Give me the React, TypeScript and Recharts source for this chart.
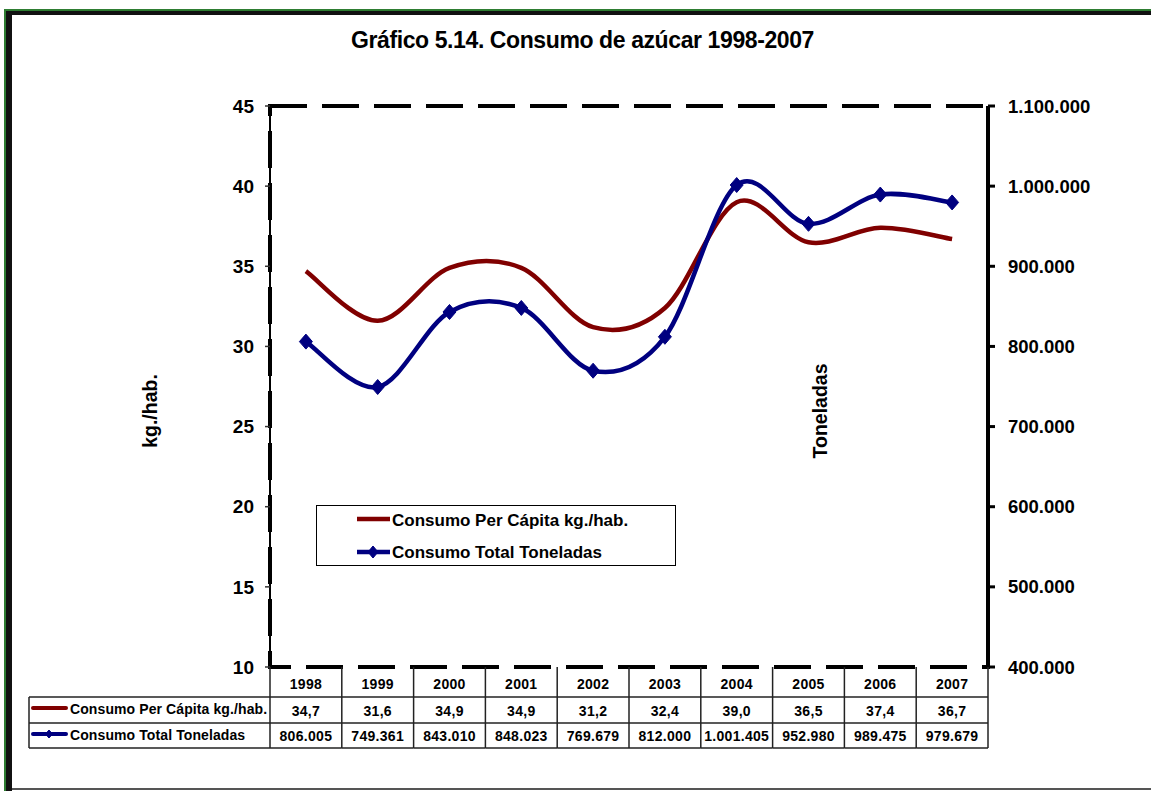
import React from "react";
import {
  LineChart,
  Line,
  XAxis,
  YAxis,
  Legend,
  ReferenceArea,
} from "recharts";

const years = ["1998", "1999", "2000", "2001", "2002", "2003", "2004", "2005", "2006", "2007"];
const perCapita = [34.7, 31.6, 34.9, 34.9, 31.2, 32.4, 39.0, 36.5, 37.4, 36.7];
const totalTons = [806005, 749361, 843010, 848023, 769679, 812000, 1001405, 952980, 989475, 979679];
const leftTicks = [10, 15, 20, 25, 30, 35, 40, 45];
const rightTicks = [400000, 500000, 600000, 700000, 800000, 900000, 1000000, 1100000];

const seriesNames = {
  perCapita: "Consumo Per Cápita kg./hab.",
  total: "Consumo Total Toneladas",
};

const data = years.map((y, i) => ({ year: y, perCapita: perCapita[i], total: totalTons[i] }));

const RED = "#800000";
const BLUE = "#000080";
const FONT = "'Liberation Sans', Arial, sans-serif";
const COL_W = 71.8;

const fmtThousands = (v: number) => String(v).replace(/\B(?=(\d{3})+(?!\d))/g, ".");
const fmtDecimal = (v: number) => v.toFixed(1).replace(".", ",");

// Excel-style smoothed line (catmull-rom like bezier)
const excelSmooth = (context: any) => {
  let pts: [number, number][] = [];
  return {
    areaStart() {},
    areaEnd() {},
    lineStart() {
      pts = [];
    },
    lineEnd() {
      if (!pts.length) return;
      context.moveTo(pts[0][0], pts[0][1]);
      for (let i = 0; i < pts.length - 1; i++) {
        const p0 = pts[i - 1] || pts[i];
        const p1 = pts[i];
        const p2 = pts[i + 1];
        const p3 = pts[i + 2] || p2;
        context.bezierCurveTo(
          p1[0] + (p2[0] - p0[0]) / 6,
          p1[1] + (p2[1] - p0[1]) / 6,
          p2[0] - (p3[0] - p1[0]) / 6,
          p2[1] - (p3[1] - p1[1]) / 6,
          p2[0],
          p2[1]
        );
      }
    },
    point(x: number, y: number) {
      pts.push([x, +y]);
    },
  };
};

const Diamond = ({ cx, cy, w = 6.5, h = 7.5 }: any) => {
  if (cx == null || cy == null) return null;
  return (
    <polygon
      points={`${cx},${cy - h} ${cx + w},${cy} ${cx},${cy + h} ${cx - w},${cy}`}
      fill={BLUE}
      stroke={BLUE}
    />
  );
};

const cellText = { fontFamily: FONT, fontWeight: 700, fontSize: 14, fill: "#000", letterSpacing: 0.3 } as const;

// x axis tick draws the data table column under each year
const TableTick = (props: any) => {
  const { x, y, payload, index } = props;
  const left = x - COL_W / 2;
  const right = x + COL_W / 2;
  const r1 = y + 30;
  const r2 = y + 56;
  const r3 = y + 81;
  const ln = { stroke: "#222", strokeWidth: 1.5 };
  const labelLeft = left - 241;
  return (
    <g>
      <line x1={left} y1={y} x2={left} y2={r3} {...ln} />
      {index === years.length - 1 && <line x1={right} y1={y} x2={right} y2={r3} {...ln} />}
      <line x1={left} y1={r1} x2={right} y2={r1} {...ln} />
      <line x1={left} y1={r2} x2={right} y2={r2} {...ln} />
      <line x1={left} y1={r3} x2={right} y2={r3} {...ln} />
      <text x={x} y={y + 22} textAnchor="middle" {...cellText}>{payload.value}</text>
      <text x={x} y={r1 + 19} textAnchor="middle" {...cellText}>{fmtDecimal(perCapita[index])}</text>
      <text x={x} y={r2 + 18} textAnchor="middle" {...cellText}>{fmtThousands(totalTons[index])}</text>
      {index === 0 && (
        <g>
          <line x1={labelLeft} y1={r1} x2={left} y2={r1} {...ln} />
          <line x1={labelLeft} y1={r2} x2={left} y2={r2} {...ln} />
          <line x1={labelLeft} y1={r3} x2={left} y2={r3} {...ln} />
          <line x1={labelLeft} y1={r1} x2={labelLeft} y2={r3} {...ln} />
          <line x1={labelLeft + 4} y1={r1 + 11} x2={labelLeft + 37} y2={r1 + 11} stroke={RED} strokeWidth={4} strokeLinecap="round" />
          <text x={labelLeft + 41} y={r1 + 17} {...cellText} letterSpacing={0.1}>{seriesNames.perCapita}</text>
          <line x1={labelLeft + 4} y1={r2 + 11} x2={labelLeft + 37} y2={r2 + 11} stroke={BLUE} strokeWidth={4} strokeLinecap="round" />
          <Diamond cx={labelLeft + 20} cy={r2 + 11} w={3.5} h={4} />
          <text x={labelLeft + 41} y={r2 + 17} {...cellText} letterSpacing={0.1}>{seriesNames.total}</text>
        </g>
      )}
    </g>
  );
};

const LegendBox = () => (
  <div
    style={{
      width: 360,
      height: 61,
      boxSizing: "border-box",
      border: "1.5px solid #000",
      background: "#fff",
      position: "relative",
    }}
  >
    <svg width={360} height={61} style={{ position: "absolute", left: -1.5, top: -1.5 }}>
      <line x1={41} y1={14} x2={74} y2={14} stroke={RED} strokeWidth={4.5} />
      <line x1={41} y1={47} x2={74} y2={47} stroke={BLUE} strokeWidth={4.5} />
      <Diamond cx={57} cy={47} w={5} h={6} />
      <text x={76} y={21} style={{ fontFamily: FONT, fontWeight: 700, fontSize: 17 }}>{seriesNames.perCapita}</text>
      <text x={76} y={53} style={{ fontFamily: FONT, fontWeight: 700, fontSize: 17 }}>{seriesNames.total}</text>
    </svg>
  </div>
);

const axisTitle = { fontFamily: FONT, fontWeight: 700, fontSize: 19.5, fill: "#000" };

const KgLabel = () => (
  <text
    x={150}
    y={411}
    transform="rotate(-90 150 411)"
    textAnchor="middle"
    dominantBaseline="central"
    style={axisTitle}
  >
    kg./hab.
  </text>
);

const TonLabel = (props: any) => {
  const vb = props.viewBox || {};
  const cx = (vb.x ?? 988) - 168;
  const cy = 411;
  return (
    <text
      x={cx}
      y={cy}
      transform={`rotate(-90 ${cx} ${cy})`}
      textAnchor="middle"
      dominantBaseline="central"
      style={axisTitle}
    >
      Toneladas
    </text>
  );
};

export default function App() {
  return (
    <div style={{ position: "absolute", left: 0, top: 0, width: 1151, height: 791, background: "#fff", overflow: "hidden" }}>
      {/* frame */}
      <div style={{ position: "absolute", left: 4, top: 9, width: 1151, height: 2, background: "#2e7d32" }} />
      <div style={{ position: "absolute", left: 4, top: 9, width: 2, height: 791, background: "#2e7d32" }} />
      <div style={{ position: "absolute", left: 6, top: 11, width: 1151, height: 4, background: "#111" }} />
      <div style={{ position: "absolute", left: 6, top: 11, width: 6, height: 791, background: "#111" }} />
      <div style={{ position: "absolute", left: 12, top: 788, width: 1151, height: 2, background: "#555" }} />

      <div
        style={{
          position: "absolute",
          left: 0,
          top: 27,
          width: 1165,
          textAlign: "center",
          fontFamily: FONT,
          fontWeight: 700,
          fontSize: 23,
          letterSpacing: -0.4,
          color: "#000",
        }}
      >
        Gráfico 5.14. Consumo de azúcar 1998-2007
      </div>

      <div style={{ position: "absolute", left: 0, top: 0 }}>
        <LineChart width={1151} height={791} data={data} margin={{ top: 106, right: 53, bottom: 43, left: 140 }}>
          <ReferenceArea
            yAxisId="left"
            y1={10}
            y2={45}
            fill="none"
            stroke="#000"
            strokeWidth={4}
            strokeDasharray="37 15"
            ifOverflow="visible"
          />
          <XAxis
            dataKey="year"
            scale="band"
            interval={0}
            height={81}
            axisLine={false}
            tickLine={false}
            tickSize={0}
            tickMargin={0}
            tick={<TableTick />}
          />
          <YAxis
            yAxisId="left"
            width={130}
            domain={[10, 45]}
            ticks={leftTicks}
            allowDataOverflow
            axisLine={{ stroke: "#000", strokeWidth: 2 }}
            tickLine={{ stroke: "#333", strokeWidth: 1.5 }}
            tickSize={5}
            tickMargin={11}
            tick={{ fontFamily: FONT, fontWeight: 700, fontSize: 19, fill: "#000" }}
            label={<KgLabel />}
          />
          <YAxis
            yAxisId="right"
            orientation="right"
            width={110}
            domain={[400000, 1100000]}
            ticks={rightTicks}
            allowDataOverflow
            axisLine={{ stroke: "#000", strokeWidth: 4 }}
            tickLine={{ stroke: "#000", strokeWidth: 3 }}
            tickSize={7}
            tickMargin={13}
            tickFormatter={fmtThousands}
            tick={{ fontFamily: FONT, fontWeight: 700, fontSize: 18.5, fill: "#000" }}
            label={<TonLabel />}
          />
          <Legend
            layout="vertical"
            align="center"
            verticalAlign="middle"
            wrapperStyle={{ left: 316, top: 505, width: 360, height: 61 }}
            content={() => <LegendBox />}
          />
          <Line
            yAxisId="left"
            dataKey="perCapita"
            name={seriesNames.perCapita}
            type={excelSmooth as any}
            stroke={RED}
            strokeWidth={4.5}
            dot={false}
            activeDot={false}
            isAnimationActive={false}
          />
          <Line
            yAxisId="right"
            dataKey="total"
            name={seriesNames.total}
            type={excelSmooth as any}
            stroke={BLUE}
            strokeWidth={4.5}
            dot={(p: any) => <Diamond key={p.index} cx={p.cx} cy={p.cy} />}
            activeDot={false}
            isAnimationActive={false}
          />
        </LineChart>
      </div>
    </div>
  );
}
